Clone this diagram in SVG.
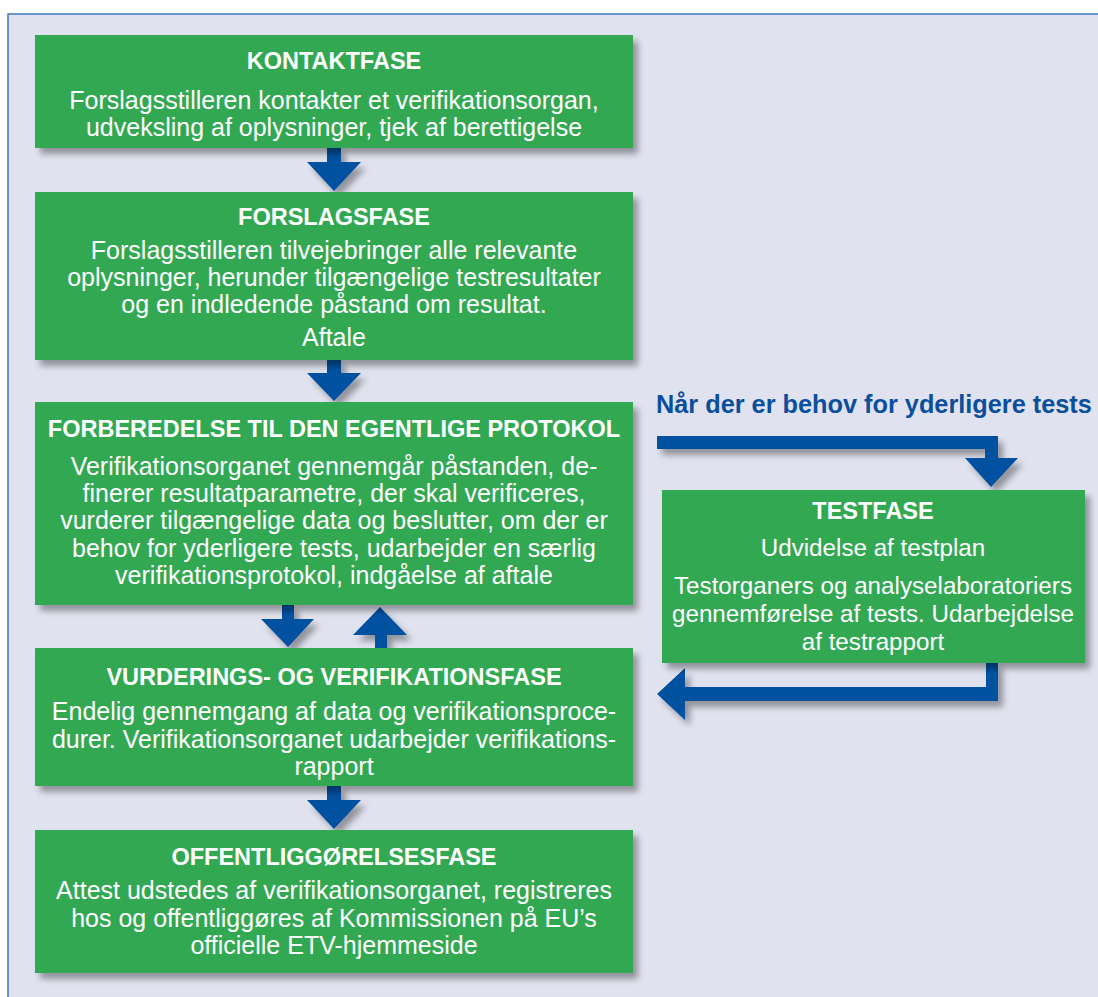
<svg xmlns="http://www.w3.org/2000/svg" width="1098" height="997" viewBox="0 0 1098 997">
<defs>
<filter id="sh" x="-10%" y="-10%" width="130%" height="140%">
<feGaussianBlur in="SourceAlpha" stdDeviation="3"/>
<feOffset dx="5" dy="6" result="b"/>
<feComponentTransfer><feFuncA type="linear" slope="0.35"/></feComponentTransfer>
<feMerge><feMergeNode/><feMergeNode in="SourceGraphic"/></feMerge>
</filter>
<style>
.box{fill:#31a853;filter:url(#sh)}
.arr{fill:#0051a0;filter:url(#sh)}
.t{font-family:"Liberation Sans",Arial,sans-serif;fill:#fff;text-anchor:middle;font-size:25px}
.s{font-size:24.2px}
.b{font-weight:bold;font-size:23.5px}
.lbl{font-family:"Liberation Sans",Arial,sans-serif;fill:#0a4f9e;font-weight:bold;font-size:25.3px}
</style>
</defs>
<rect x="0" y="0" width="1098" height="997" fill="#fff"/>
<rect x="8" y="14" width="1100" height="1000" fill="#e0e2ef" stroke="#3a78c4" stroke-width="1.5"/>

<g id="connectors">
<polygon class="arr" points="327,148 341,148 341,162 361,162 334,191 307,162 327,162"/>
<polygon class="arr" points="327,360 341,360 341,373 361,373 334,401 307,373 327,373"/>
<polygon class="arr" points="282,605 294,605 294,619 314,619 288,647 261,619 282,619"/>
<polygon class="arr" points="375,648 387,648 387,635 407,635 380,607 353,635 375,635"/>
<polygon class="arr" points="327,786 341,786 341,800 361,800 334,829 307,800 327,800"/>
<polygon class="arr" points="657,436 998,436 998,458 1018,458 991,487 965,458 985,458 985,449 657,449"/>
<polygon class="arr" points="998,663 998,701 685,701 685,720 657,694 685,668 685,687 986,687 986,663"/>
</g>

<g id="kontaktfase">
<rect class="box" x="35" y="35" width="598" height="113"/>
<text class="t b" x="334" y="69">KONTAKTFASE</text>
<text class="t" x="334" y="109">Forslagsstilleren kontakter et verifikationsorgan,</text>
<text class="t" x="334" y="136">udveksling af oplysninger, tjek af berettigelse</text>
</g>

<g id="forslagsfase">
<rect class="box" x="35" y="192" width="598" height="168"/>
<text class="t b" x="334" y="225">FORSLAGSFASE</text>
<text class="t" x="334" y="259">Forslagsstilleren tilvejebringer alle relevante</text>
<text class="t" x="334" y="286">oplysninger, herunder tilgængelige testresultater</text>
<text class="t" x="334" y="313">og en indledende påstand om resultat.</text>
<text class="t" x="334" y="346">Aftale</text>
</g>

<g id="forberedelse">
<rect class="box" x="35" y="402" width="598" height="203"/>
<text class="t b" x="334" y="437">FORBEREDELSE TIL DEN EGENTLIGE PROTOKOL</text>
<text class="t" x="334" y="475">Verifikationsorganet gennemgår påstanden, de-</text>
<text class="t" x="334" y="502">finerer resultatparametre, der skal verificeres,</text>
<text class="t" x="334" y="529">vurderer tilgængelige data og beslutter, om der er</text>
<text class="t" x="334" y="557">behov for yderligere tests, udarbejder en særlig</text>
<text class="t" x="334" y="584">verifikationsprotokol, indgåelse af aftale</text>
</g>

<g id="vurdering">
<rect class="box" x="35" y="648" width="598" height="138"/>
<text class="t b" x="334" y="685">VURDERINGS- OG VERIFIKATIONSFASE</text>
<text class="t" x="334" y="720">Endelig gennemgang af data og verifikationsproce-</text>
<text class="t" x="334" y="748">durer. Verifikationsorganet udarbejder verifikations-</text>
<text class="t" x="334" y="775">rapport</text>
</g>

<g id="offentliggoerelse">
<rect class="box" x="35" y="830" width="598" height="143"/>
<text class="t b" x="334" y="865">OFFENTLIGGØRELSESFASE</text>
<text class="t" x="334" y="899">Attest udstedes af verifikationsorganet, registreres</text>
<text class="t" x="334" y="927">hos og offentliggøres af Kommissionen på EU’s</text>
<text class="t" x="334" y="954">officielle ETV-hjemmeside</text>
</g>

<g id="testfase">
<rect class="box" x="662" y="490" width="423" height="173"/>
<text class="t b" x="873" y="519">TESTFASE</text>
<text class="t s" x="873" y="556">Udvidelse af testplan</text>
<text class="t s" x="873" y="594">Testorganers og analyselaboratoriers</text>
<text class="t s" x="873" y="622">gennemførelse af tests. Udarbejdelse</text>
<text class="t s" x="873" y="650">af testrapport</text>
</g>

<g id="label">
<text class="lbl" x="656" y="413">Når der er behov for yderligere tests</text>
</g>
</svg>
